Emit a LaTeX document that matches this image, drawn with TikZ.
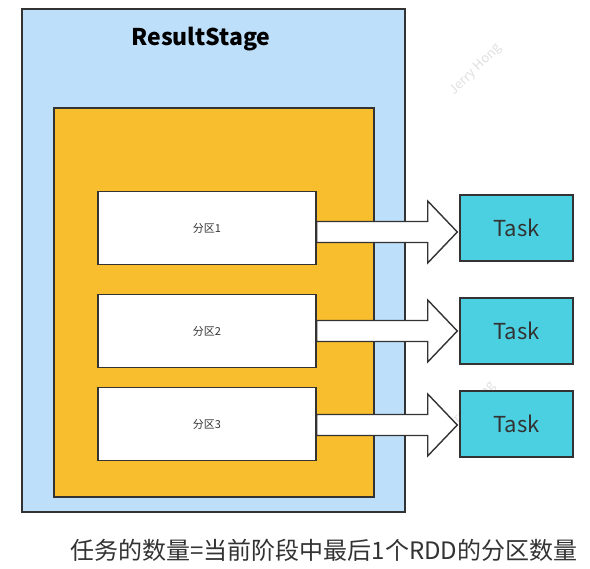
\documentclass[tikz,border=0pt]{standalone}
\usepackage{fontspec}
\setmainfont{Noto Sans CJK SC}
\usepackage{tikz}
\usetikzlibrary{calc}
\usetikzlibrary{positioning}

\definecolor{stageblue}{HTML}{BDDFF9}
\definecolor{rddorange}{HTML}{F8BE2E}
\definecolor{taskcyan}{HTML}{4BD0E2}
\definecolor{edgegray}{HTML}{333333}

\begin{document}
\begin{tikzpicture}[x=1pt, y=-1pt, line width=1.4pt,
    box/.style={draw=edgegray, rectangle, inner sep=0pt},
    part/.style={box, fill=white, minimum width=218pt, minimum height=73pt, font=\fontsize{11}{13}\selectfont, text=edgegray},
    task/.style={box, fill=taskcyan, minimum width=113pt, minimum height=66pt, font=\fontsize{22}{26}\selectfont, text=edgegray},
    blockarrow/.style={draw=edgegray, fill=white, line join=miter}]
        \useasboundingbox (0,0) rectangle (590,569);
        % watermarks
        \node[text=black!12, rotate=45, font=\fontsize{13}{15}\selectfont] (wm1) at (476,70) {Jerry Hong};
        \node[text=black!12, rotate=45, font=\fontsize{13}{15}\selectfont] (wm2) at (470,408) {Jerry Hong};

        \node[box, fill=stageblue, minimum width=383pt, minimum height=503pt] (stage) at (213.5,260.5) {};
        \node[font=\bfseries\fontsize{23}{27}\selectfont] (title) at (201,39) {ResultStage};
        \node[box, fill=rddorange, minimum width=320pt, minimum height=389pt] (rdd) at (214,302.5) {};

        \node[part] (p1) at (207,228) {分区1};
        \node[part] (p2) at (207,331) {分区2};
        \node[part] (p3) at (207,424) {分区3};

        \node[task] (t1) at (516.5,228) {Task};
        \node[task] (t2) at (516.5,331) {Task};
        \node[task] (t3) at (516.5,424) {Task};

        \foreach \i/\dy in {1/4, 2/0, 3/1}{
            \draw[blockarrow] ($(p\i.east)+(0,\dy-10.5)$) -- ++(111,0) -- ++(0,-20.5)
                -- ($(t\i.west)+(-2,\dy)$) -- ($(p\i.east)+(111,\dy+31)$) -- ++(0,-20.5)
                -- ($(p\i.east)+(0,\dy+10.5)$) -- cycle;
        }

        \node[text=edgegray, font=\fontsize{24}{28}\selectfont] (note) at (324,550) {任务的数量=当前阶段中最后1个RDD的分区数量};
    \end{tikzpicture}
\end{document}
